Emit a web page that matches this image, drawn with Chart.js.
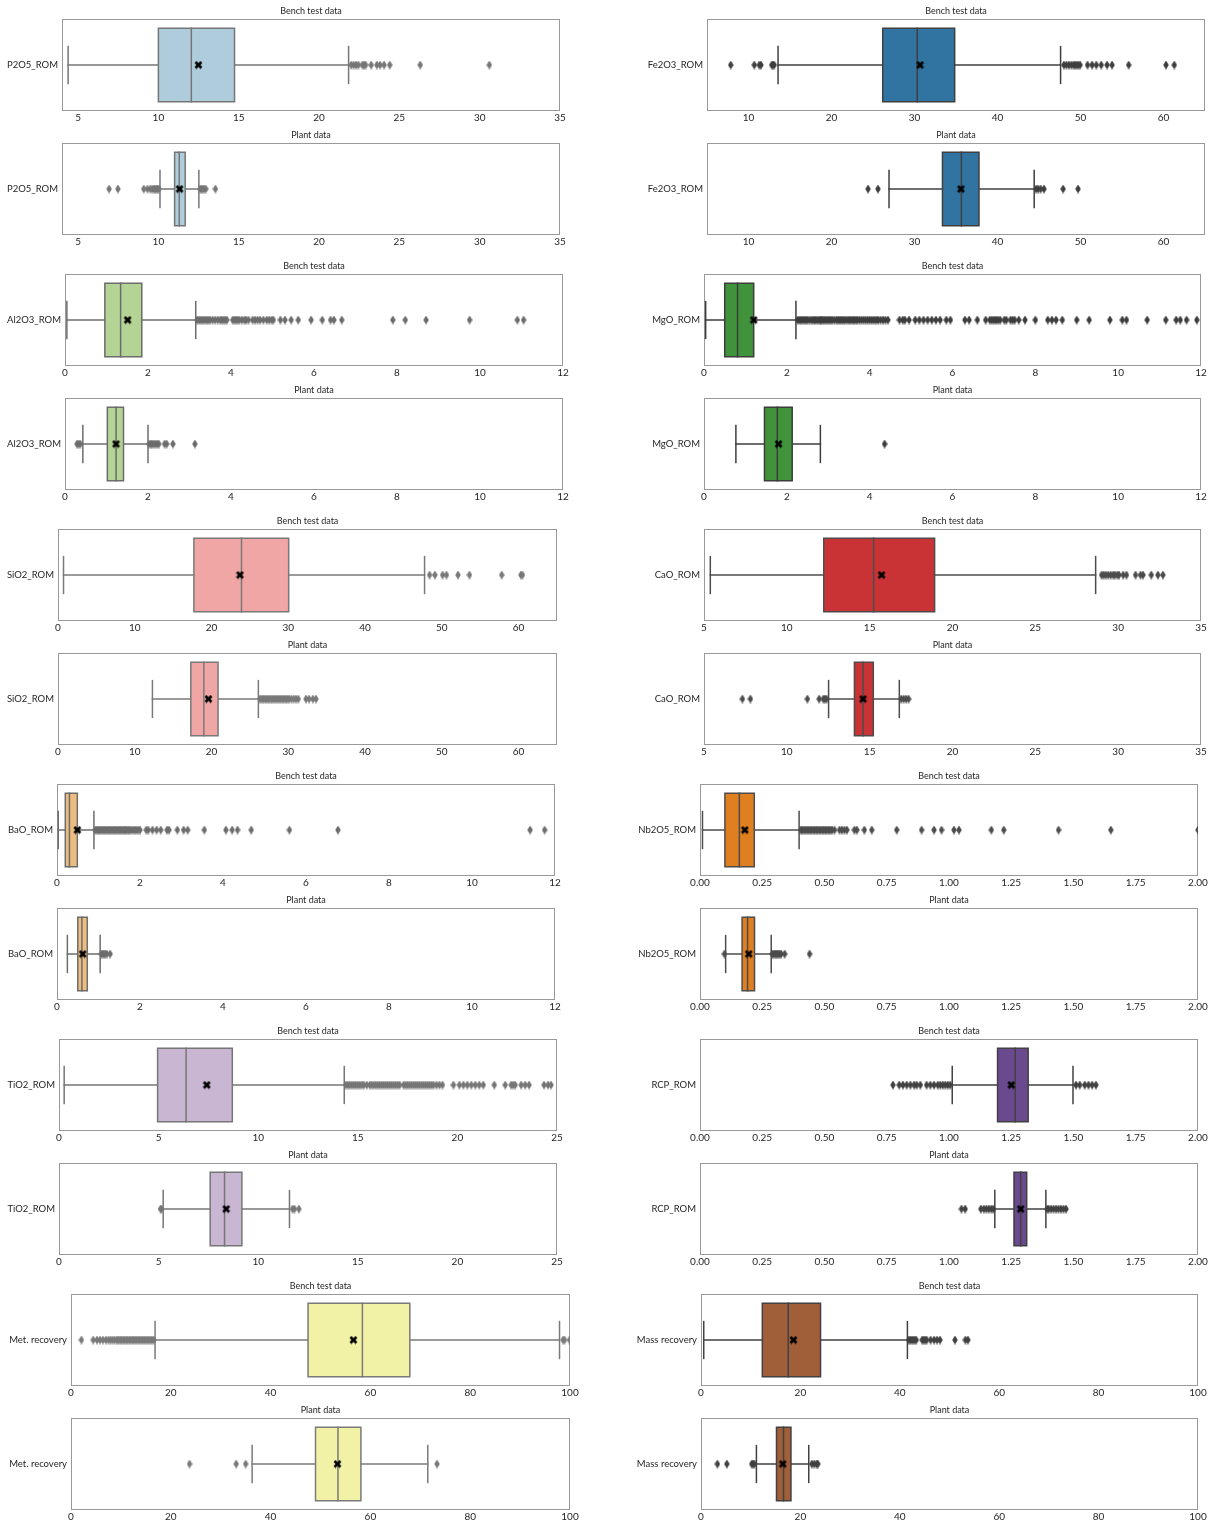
<!DOCTYPE html>
<html>
<head>
<meta charset="utf-8">
<title>ROM assay distributions: bench test vs plant</title>
<script src="https://cdn.jsdelivr.net/npm/chart.js@4.4.0/dist/chart.umd.min.js"></script>
<style>
  body { margin: 0; background: #fff; width: 1217px; height: 1523px; position: relative; overflow: hidden; }
  canvas { position: absolute; }
</style>
</head>
<body>
<script>
// --------------------
// Data
// --------------------
const variables = [
  "P2O5_ROM", "Fe2O3_ROM", "Al2O3_ROM", "MgO_ROM", "SiO2_ROM", "CaO_ROM",
  "BaO_ROM", "Nb2O5_ROM", "TiO2_ROM", "RCP_ROM", "Met. recovery", "Mass recovery"
];

// [lower whisker, Q1, median, Q3, upper whisker]
const benchBox = [
  [4.38, 10.0, 12.05, 14.74, 21.84],
  [13.56, 26.17, 30.33, 34.84, 47.6],
  [0.045, 0.96, 1.34, 1.85, 3.15],
  [0.04, 0.5, 0.81, 1.2, 2.22],
  [0.72, 17.7, 23.9, 30.05, 47.75],
  [5.38, 12.23, 15.24, 18.92, 28.64],
  [0.03, 0.2, 0.3, 0.49, 0.89],
  [0.01, 0.1, 0.158, 0.218, 0.398],
  [0.26, 4.95, 6.38, 8.7, 14.32],
  [1.013, 1.195, 1.266, 1.318, 1.498],
  [16.85, 47.5, 58.4, 67.9, 97.9],
  [0.55, 12.34, 17.56, 24.05, 41.53]
];
const benchMean = [12.49, 30.67, 1.51, 1.2, 23.7, 15.72, 0.49, 0.18, 7.42, 1.25, 56.6, 18.6];

const plantBox = [
  [10.1, 11.01, 11.3, 11.67, 12.52],
  [26.93, 33.37, 35.65, 37.77, 44.42],
  [0.43, 1.02, 1.23, 1.41, 2.0],
  [0.77, 1.46, 1.77, 2.13, 2.81],
  [12.3, 17.3, 19.0, 20.85, 26.1],
  [12.52, 14.08, 14.6, 15.22, 16.79],
  [0.25, 0.5, 0.6, 0.73, 1.04],
  [0.103, 0.169, 0.191, 0.219, 0.286],
  [5.23, 7.59, 8.31, 9.18, 11.57],
  [1.184, 1.261, 1.288, 1.312, 1.389],
  [36.3, 49.0, 53.5, 58.1, 71.5],
  [11.15, 15.19, 16.61, 18.1, 21.68]
];
const plantMean = [11.32, 35.6, 1.23, 1.8, 19.6, 14.6, 0.62, 0.196, 8.39, 1.288, 53.4, 16.46];

// fliers, one list per variable
const benchOutliers = [
  [22.0, 22.15, 22.3, 22.45, 22.7, 22.8, 22.9, 23.25, 23.6, 23.8, 24.05, 24.4, 26.3, 30.6],
  [7.86, 10.7, 11.3, 11.5, 12.8, 12.95, 13.1, 48.0, 48.3, 48.6, 48.9, 49.15, 49.35, 49.55, 49.75, 49.95,
   50.85, 51.4, 51.9, 52.5, 53.2, 53.8, 55.8, 60.3, 61.3],
  [3.18, 3.22, 3.26, 3.3, 3.34, 3.38, 3.42, 3.46, 3.5, 3.56, 3.62, 3.68, 3.74, 3.78, 3.82, 3.86, 3.9,
   4.04, 4.08, 4.12, 4.16, 4.2, 4.26, 4.32, 4.36, 4.42, 4.52, 4.58, 4.64, 4.7, 4.78, 4.86, 4.92, 4.98,
   5.02, 5.19, 5.3, 5.45, 5.62, 5.93, 6.2, 6.4, 6.48, 6.67, 7.9, 8.2, 8.7, 9.75, 10.9, 11.05],
  [2.26, 2.3, 2.34, 2.38, 2.42, 2.46, 2.5, 2.55, 2.6, 2.64, 2.68, 2.72, 2.76, 2.8, 2.83, 2.86, 2.9,
   2.94, 2.98, 3.02, 3.06, 3.1, 3.15, 3.2, 3.24, 3.28, 3.32, 3.36, 3.4, 3.45, 3.5, 3.54, 3.58, 3.62,
   3.66, 3.7, 3.75, 3.8, 3.85, 3.9, 3.95, 4.0, 4.05, 4.1, 4.15, 4.2, 4.26, 4.32, 4.38, 4.44,
   4.72, 4.8, 4.85, 4.95, 5.1, 5.2, 5.3, 5.4, 5.5, 5.6, 5.7, 5.85, 5.95, 6.3, 6.4, 6.6, 6.8, 6.9,
   6.95, 7.0, 7.05, 7.1, 7.15, 7.25, 7.3, 7.4, 7.45, 7.5, 7.6, 7.75, 8.0, 8.3, 8.4, 8.5, 8.65, 9.0,
   9.3, 9.8, 10.1, 10.2, 10.7, 11.15, 11.4, 11.5, 11.65, 11.9],
  [48.4, 49.1, 50.1, 50.6, 52.1, 53.6, 57.8, 60.3, 60.5],
  [29.0, 29.12, 29.25, 29.4, 29.55, 29.7, 29.8, 29.95, 30.05, 30.3, 30.5, 31.05, 31.35, 31.5, 32.0,
   32.4, 32.7],
  [0.92, 0.95, 0.98, 1.01, 1.04, 1.07, 1.1, 1.13, 1.16, 1.19, 1.22, 1.25, 1.28, 1.31, 1.34, 1.37,
   1.4, 1.43, 1.46, 1.49, 1.52, 1.55, 1.58, 1.61, 1.64, 1.67, 1.7, 1.73, 1.76, 1.8, 1.84, 1.88,
   1.92, 1.96, 2.0, 2.15, 2.2, 2.3, 2.4, 2.5, 2.65, 2.7, 2.9, 3.05, 3.15, 3.55, 4.07, 4.22, 4.35,
   4.68, 5.6, 6.77, 11.4, 11.75],
  [0.405, 0.41, 0.416, 0.422, 0.428, 0.434, 0.44, 0.446, 0.452, 0.458, 0.464, 0.47, 0.476, 0.482,
   0.488, 0.494, 0.5, 0.506, 0.512, 0.518, 0.524, 0.53, 0.54, 0.56, 0.57, 0.58, 0.59, 0.62, 0.63,
   0.66, 0.69, 0.79, 0.89, 0.94, 0.97, 1.02, 1.04, 1.17, 1.22, 1.44, 1.65, 2.0],
  [14.4, 14.5, 14.6, 14.7, 14.8, 14.9, 15.0, 15.1, 15.2, 15.3, 15.45, 15.6, 15.7, 15.8, 15.9, 16.0,
   16.1, 16.2, 16.3, 16.4, 16.5, 16.6, 16.7, 16.8, 16.9, 17.0, 17.1, 17.3, 17.4, 17.5, 17.6, 17.7,
   17.8, 17.9, 18.0, 18.1, 18.2, 18.3, 18.4, 18.5, 18.6, 18.7, 18.8, 18.95, 19.1, 19.25, 19.8, 20.1,
   20.3, 20.5, 20.7, 20.9, 21.1, 21.3, 21.85, 22.4, 22.7, 22.8, 22.9, 23.2, 23.4, 23.6, 24.35, 24.55,
   24.7],
  [0.775, 0.8, 0.815, 0.83, 0.845, 0.86, 0.87, 0.885, 0.91, 0.925, 0.94, 0.955, 0.965, 0.975, 0.985,
   0.995, 1.005, 1.51, 1.525, 1.545, 1.56, 1.575, 1.59],
  [2.08, 4.45, 5.2, 5.8, 6.4, 7.0, 7.5, 7.9, 8.3, 8.7, 9.1, 9.4, 9.7, 10.0, 10.3, 10.6, 10.9, 11.2,
   11.5, 11.8, 12.1, 12.4, 12.7, 13.0, 13.3, 13.6, 13.9, 14.2, 14.5, 14.8, 15.1, 15.4, 15.7, 16.0,
   16.3, 16.6, 98.6, 98.9, 99.9],
  [41.8, 42.1, 42.4, 42.7, 43.0, 43.3, 44.5, 44.8, 45.1, 45.4, 46.2, 46.9, 47.5, 48.1, 51.1, 53.2, 53.7]
];

const plantOutliers = [
  [6.93, 7.48, 9.09, 9.32, 9.5, 9.62, 9.72, 9.8, 9.88, 9.95, 10.02, 12.6, 12.68, 12.75, 12.85, 12.95, 13.55],
  [24.4, 25.6, 44.65, 44.9, 45.2, 45.6, 47.9, 49.7],
  [0.29, 0.33, 0.37, 2.03, 2.07, 2.1, 2.14, 2.18, 2.22, 2.26, 2.4, 2.45, 2.6, 3.13],
  [4.36],
  [26.3, 26.5, 26.7, 26.9, 27.1, 27.3, 27.5, 27.7, 27.9, 28.1, 28.3, 28.5, 28.7, 28.9, 29.1, 29.3,
   29.5, 29.7, 29.9, 30.1, 30.4, 30.7, 31.0, 31.3, 32.3, 32.7, 33.2, 33.6],
  [7.32, 7.8, 11.24, 11.95, 12.2, 12.3, 12.4, 16.9, 17.05, 17.2, 17.35],
  [1.07, 1.1, 1.13, 1.16, 1.2, 1.28],
  [0.098, 0.29, 0.295, 0.3, 0.305, 0.31, 0.315, 0.32, 0.326, 0.34, 0.44],
  [5.1, 5.14, 11.72, 11.82, 12.04],
  [1.05, 1.065, 1.128, 1.14, 1.15, 1.16, 1.17, 1.178, 1.395, 1.4, 1.41, 1.42, 1.43, 1.44, 1.45, 1.46, 1.47],
  [23.75, 33.1, 35.0, 73.35],
  [3.3, 5.2, 10.2, 10.5, 10.75, 22.3, 22.8, 23.3, 23.5]
];

// x axis limits and tick labels
const xMin = [4, 5, 0, 0, 0, 5, 0, 0, 0, 0, 0, 0];
const xMax = [35, 65, 12, 12, 65, 35, 12, 2, 25, 2, 100, 100];
const xTicks = [
  [5, 10, 15, 20, 25, 30, 35],
  [10, 20, 30, 40, 50, 60],
  [0, 2, 4, 6, 8, 10, 12],
  [0, 2, 4, 6, 8, 10, 12],
  [0, 10, 20, 30, 40, 50, 60],
  [5, 10, 15, 20, 25, 30, 35],
  [0, 2, 4, 6, 8, 10, 12],
  [0, 0.25, 0.5, 0.75, 1, 1.25, 1.5, 1.75, 2],
  [0, 5, 10, 15, 20, 25],
  [0, 0.25, 0.5, 0.75, 1, 1.25, 1.5, 1.75, 2],
  [0, 20, 40, 60, 80, 100],
  [0, 20, 40, 60, 80, 100]
];
const xDecimals = [0, 0, 0, 0, 0, 0, 0, 2, 0, 2, 0, 0];

// --------------------
// Style / layout
// --------------------
const paired = ["#a6cee3", "#1f78b4", "#b2df8a", "#33a02c", "#fb9a99", "#e31a1c",
                "#fdbf6f", "#ff7f00", "#cab2d6", "#6a3d9a", "#ffff99", "#b15928"];
const frameLeft  = [62, 707, 65, 704, 58, 704, 57, 700, 59, 700, 71, 701];
const frameRight = [560, 1205, 563, 1201, 557, 1201, 555, 1198, 557, 1198, 570, 1198];
const FONT = "Lato, 'Open Sans', sans-serif";
const TEXT = "#262626";
const FRAME = "#999999";

// seaborn-like: desaturate to 75%, edge gray from the colour's lightness
function hexToRgb(hex) {
  return [1, 3, 5].map(i => parseInt(hex.slice(i, i + 2), 16) / 255);
}
function faceColor(hex) {
  const c = hexToRgb(hex);
  const l = (Math.max(...c) + Math.min(...c)) / 2;
  const d = c.map(v => Math.round((l + (v - l) * 0.75) * 255));
  return `rgb(${d[0]},${d[1]},${d[2]})`;
}
function edgeColor(hex) {
  const c = hexToRgb(hex);
  const l = (Math.max(...c) + Math.min(...c)) / 2;
  const g = Math.round(l * 0.6 * 255);
  return `rgb(${g},${g},${g})`;
}

// marker glyphs
function diamondMarker(color) {
  const c = document.createElement("canvas");
  c.width = 6; c.height = 9;
  const g = c.getContext("2d");
  g.fillStyle = color;
  g.beginPath();
  g.moveTo(3, 0); g.lineTo(5.8, 4.5); g.lineTo(3, 9); g.lineTo(0.2, 4.5);
  g.closePath();
  g.fill();
  return c;
}
function meanMarker() {
  const c = document.createElement("canvas");
  c.width = 9; c.height = 9;
  const g = c.getContext("2d");
  g.strokeStyle = "#000";
  g.lineWidth = 2.8;
  g.beginPath();
  g.moveTo(1.5, 1.5); g.lineTo(7.5, 7.5);
  g.moveTo(7.5, 1.5); g.lineTo(1.5, 7.5);
  g.stroke();
  return c;
}
const meanGlyph = meanMarker();

// axes frame, drawn under the data
const framePlugin = {
  id: "frame",
  beforeDatasetsDraw(chart) {
    const { ctx, chartArea: a } = chart;
    ctx.save();
    ctx.strokeStyle = FRAME;
    ctx.lineWidth = 1;
    ctx.strokeRect(Math.round(a.left) + 0.5, Math.round(a.top) + 0.5,
                   Math.round(a.width) - 1, Math.round(a.height) - 1);
    ctx.restore();
  }
};

// --------------------
// Box plot datasets
// --------------------
function boxDatasets(stats, mean, outliers, face, edge) {
  const [lo, q1, med, q3, hi] = stats;
  const line = (pts, order) => ({
    data: pts, showLine: true, borderColor: edge, borderWidth: 1.5,
    borderCapStyle: "square", pointRadius: 0, fill: false, clip: 0, order
  });
  return [
    { data: [{ x: mean, y: 0 }], pointStyle: meanGlyph, pointRadius: 4, clip: 0, order: 0 },
    { data: outliers.map(v => ({ x: v, y: 0 })), pointStyle: diamondMarker(edge), pointRadius: 3, clip: 0, order: 1 },
    line([{ x: med, y: -0.4 }, { x: med, y: 0.4 }], 2),
    line([{ x: q1, y: -0.4 }, { x: q3, y: -0.4 }, { x: q3, y: 0.4 }, { x: q1, y: 0.4 }, { x: q1, y: -0.4 }], 3),
    { data: [{ x: q1, y: 0.4 }, { x: q3, y: 0.4 }], showLine: true, borderWidth: 0, pointRadius: 0,
      fill: { value: -0.4 }, backgroundColor: face, clip: 0, order: 4 },
    line([{ x: lo, y: 0 }, { x: q1, y: 0 }], 5),
    line([{ x: q3, y: 0 }, { x: hi, y: 0 }], 5),
    line([{ x: lo, y: -0.2 }, { x: lo, y: 0.2 }], 5),
    line([{ x: hi, y: -0.2 }, { x: hi, y: 0.2 }], 5)
  ];
}

// --------------------
// Build one panel
// --------------------
function buildPanel(i, title, stats, mean, outliers, frameTop) {
  const colStart = i % 2 ? 600 : 0;
  const canvas = document.createElement("canvas");
  canvas.width = frameRight[i] + 14 - colStart;
  canvas.height = 127;
  canvas.style.left = colStart + "px";
  canvas.style.top = (frameTop - 19) + "px";
  document.body.appendChild(canvas);

  const face = faceColor(paired[i]);
  const edge = edgeColor(paired[i]);

  new Chart(canvas, {
    type: "scatter",
    data: { datasets: boxDatasets(stats, mean, outliers, face, edge) },
    options: {
      responsive: false,
      animation: false,
      devicePixelRatio: 1,
      events: [],
      layout: { padding: { top: 5.5, right: 14, bottom: 0, left: 0 } },
      plugins: {
        legend: { display: false },
        tooltip: { enabled: false },
        title: {
          display: true, text: title, fullSize: false, color: TEXT,
          font: { family: FONT, size: 9, weight: "normal" },
          padding: { top: 0, bottom: 2.7 }
        }
      },
      scales: {
        x: {
          type: "linear", min: xMin[i], max: xMax[i],
          grid: { display: false, drawTicks: false },
          border: { display: false },
          afterBuildTicks: s => { s.ticks = xTicks[i].map(v => ({ value: v })); },
          afterFit: s => { s.height = 16; },
          ticks: {
            padding: 1, maxRotation: 0, autoSkip: false, color: TEXT,
            font: { family: FONT, size: 10 },
            callback: v => Number(v).toFixed(xDecimals[i])
          }
        },
        y: {
          type: "linear", min: -0.5, max: 0.5,
          grid: { display: false, drawTicks: false },
          border: { display: false },
          afterBuildTicks: s => { s.ticks = [{ value: 0 }]; },
          afterFit: s => { s.width = frameLeft[i] - colStart; },
          ticks: {
            padding: 4, color: TEXT,
            font: { family: FONT, size: 9.5 },
            callback: () => variables[i]
          }
        }
      }
    },
    plugins: [framePlugin]
  });
}

variables.forEach((name, i) => {
  const pair = Math.floor(i / 2);
  buildPanel(i, "Bench test data", benchBox[i], benchMean[i], benchOutliers[i], 19 + 255 * pair);
  buildPanel(i, "Plant data", plantBox[i], plantMean[i], plantOutliers[i], 143 + 255 * pair);
});
</script>
</body>
</html>
